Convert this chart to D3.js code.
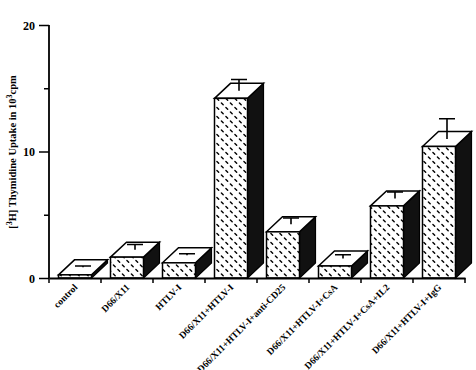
<!DOCTYPE html>
<html>
<head>
<meta charset="utf-8">
<script src="https://cdn.jsdelivr.net/npm/d3@7"></script>
<style>
  body { margin: 0; background: #fff; }
  text { font-family: "Liberation Serif", "Times New Roman", serif; font-weight: bold; fill: #000; }
</style>
</head>
<body>
<div id="chart"></div>
<script>
// data
var categories = ["control", "D66/X11", "HTLV-I", "D66/X11+HTLV-I", "D66/X11+HTLV-I+anti-CD25",
  "D66/X11+HTLV-I+CsA", "D66/X11+HTLV-I+CsA+IL2", "D66/X11+HTLV-I+IgG"];
var values = [0.25, 1.65, 1.2, 14.2, 3.65, 0.95, 5.7, 10.4];
var errors = [0.1, 0.4, 0.12, 0.9, 0.5, 0.3, 0.5, 1.6];
var majorTicks = [0, 10, 20];
var minorTicks = [5, 15];

var svgWidth = 476, svgHeight = 370;
var margin = {top: 25, left: 49, bottom: 92, right: 11};
var chartWidth = 416, chartHeight = 253;

var svg = d3.select("#chart").append("svg")
  .attr("width", svgWidth)
  .attr("height", svgHeight);

// dash pattern for the front faces
var defs = svg.append("defs");
var pat = defs.append("pattern")
  .attr("id", "hatch")
  .attr("patternUnits", "userSpaceOnUse")
  .attr("width", 9).attr("height", 9);
pat.append("rect").attr("width", 9).attr("height", 9).attr("fill", "#fff");
pat.append("path")
  .attr("d", "M1.4,5.9L3.2,7.7M5.9,1.4L7.7,3.2")
  .attr("stroke", "#000").attr("stroke-width", 1.4).attr("stroke-linecap", "round");

var g = svg.append("g")
  .attr("transform", `translate(${margin.left}, ${margin.top})`);

var x = d3.scaleBand().domain(categories).range([0, chartWidth]).paddingInner(0).paddingOuter(0);
var y = d3.scaleLinear().domain([0, 20]).range([chartHeight, 0]);

var dx = 16, dy = 15, off = 9.5, fw = 33;

// axes
var yAxis = d3.axisLeft(y).tickValues(majorTicks).tickSize(10).tickPadding(4).tickFormat(d3.format("d"));
var yG = g.append("g").call(yAxis);
yG.select(".domain").remove();
yG.selectAll("line").attr("stroke-width", 1.5);
yG.selectAll("text").attr("font-size", 12).attr("dy", "0.35em").attr("x", -14);
g.append("g").call(d3.axisLeft(y).tickValues(minorTicks).tickSize(5).tickFormat(""))
  .call(s => s.select(".domain").remove())
  .selectAll("line").attr("stroke-width", 1.5);

g.append("line").attr("x1", 0).attr("x2", 0).attr("y1", y(20)).attr("y2", y(0))
  .attr("stroke", "#000").attr("stroke-width", 1.8);

// bars
var bars = g.selectAll(".bar").data(categories).enter().append("g").attr("class", "bar");

bars.append("path") // side face
  .attr("d", (d, i) => {
    var x1 = x(d) + off + fw, yt = y(values[i]), yb = y(0);
    return `M${x1},${yb}L${x1},${yt}L${x1 + dx},${yt - dy}L${x1 + dx},${yb - dy}Z`;
  })
  .attr("fill", "#111").attr("stroke", "#000").attr("stroke-width", 1.2);

bars.append("path") // top face
  .attr("d", (d, i) => {
    var x0 = x(d) + off, yt = y(values[i]);
    return `M${x0},${yt}L${x0 + dx},${yt - dy}L${x0 + fw + dx},${yt - dy}L${x0 + fw},${yt}Z`;
  })
  .attr("fill", "#fff").attr("stroke", "#000").attr("stroke-width", 1.5);

bars.append("rect") // front face
  .attr("x", d => x(d) + off)
  .attr("y", (d, i) => y(values[i]))
  .attr("width", fw)
  .attr("height", (d, i) => y(0) - y(values[i]))
  .attr("fill", "url(#hatch)").attr("stroke", "#000").attr("stroke-width", 1.5);

// error bars from the centre of the top face
bars.append("path")
  .attr("d", (d, i) => {
    var cx = x(d) + off + fw / 2 + dx / 2;
    var y0 = y(values[i]) - dy / 2, y1 = y(values[i] + errors[i]) - dy / 2;
    return `M${cx},${y0}L${cx},${y1}M${cx - 8},${y1}L${cx + 8},${y1}`;
  })
  .attr("fill", "none").attr("stroke", "#000").attr("stroke-width", 1.6);

// x axis
var xAxis = d3.axisBottom(x).tickSize(0).tickFormat("");
var xG = g.append("g").attr("transform", `translate(0, ${chartHeight})`).call(xAxis);
xG.select(".domain").attr("stroke-width", 1.8);
g.selectAll(".xtick").data(d3.range(categories.length + 1)).enter().append("line")
  .attr("x1", i => i * x.bandwidth()).attr("x2", i => i * x.bandwidth())
  .attr("y1", chartHeight).attr("y2", chartHeight + 5)
  .attr("stroke", "#000").attr("stroke-width", 1.5);

g.selectAll(".xlabel").data(categories).enter().append("text")
  .attr("transform", d => `translate(${x(d) + x.bandwidth() / 2 + 3}, ${chartHeight + 10}) rotate(-45)`)
  .attr("text-anchor", "end")
  .attr("font-size", 9.5)
  .text(d => d);

// y label
var yl = svg.append("text")
  .attr("transform", "translate(16, 152) rotate(-90)")
  .attr("text-anchor", "middle")
  .attr("font-size", 10.5);
yl.append("tspan").text("[");
yl.append("tspan").attr("baseline-shift", "super").attr("font-size", 8).text("3");
yl.append("tspan").text("H] Thymidine Uptake in  10");
yl.append("tspan").attr("baseline-shift", "super").attr("font-size", 8).text("3");
yl.append("tspan").text("cpm");
</script>
</body>
</html>
